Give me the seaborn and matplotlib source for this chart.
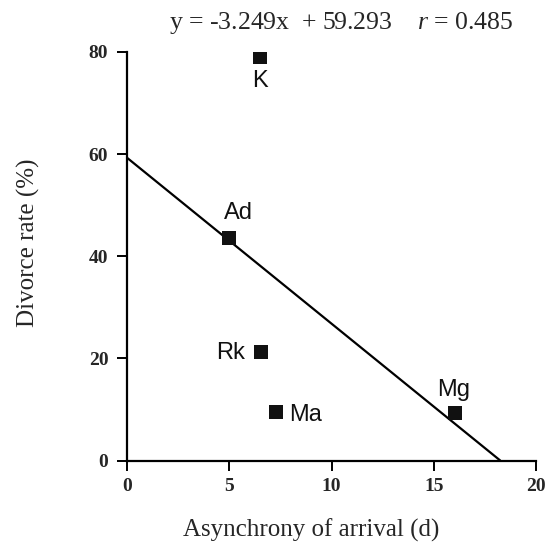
import matplotlib
matplotlib.use("Agg")
import matplotlib.pyplot as plt
import seaborn as sns
import pandas as pd

# Data
labels = ["K", "Ad", "Rk", "Ma", "Mg"]
asynchrony = [6.48, 4.99, 6.53, 7.29, 16.06]
divorce = [79.1, 43.6, 21.2, 9.5, 9.4]
slope = -3.249
intercept = 59.293
r_value = 0.485
x_ticks = [0, 5, 10, 15, 20]
y_ticks = [0, 20, 40, 60, 80]

sns.set_style("ticks")
plt.rcParams["font.family"] = ["Liberation Serif", "DejaVu Serif"]
plt.rcParams["mathtext.fontset"] = "custom"
plt.rcParams["mathtext.rm"] = "Liberation Serif"
plt.rcParams["mathtext.it"] = "Liberation Serif:italic"

df = pd.DataFrame({"x": asynchrony, "y": divorce, "label": labels})
x_end = -intercept / slope
line_df = pd.DataFrame({"x": [0.0, x_end], "y": [intercept, intercept + slope * x_end]})

fig = plt.figure(figsize=(5.54, 5.45), dpi=100)
ax = fig.add_axes([127 / 554, 1 - 460.5 / 545, 409 / 554, 408.5 / 545])

sns.lineplot(data=line_df, x="x", y="y", color="black", linewidth=1.6, ax=ax)
sns.scatterplot(data=df, x="x", y="y", marker="s", s=105, color="#111111",
                edgecolor="#111111", linewidth=0, ax=ax, zorder=3)

# label offsets in points: (dx, dy, ha)
offsets = {
    "K": (0, -22, "center"),
    "Ad": (6.8, 13.3, "center"),
    "Rk": (-11.2, -5, "right"),
    "Ma": (9.4, -6.5, "left"),
    "Mg": (-1, 12.2, "center"),
}
for lab, xv, yv in zip(labels, asynchrony, divorce):
    dx, dy, ha = offsets[lab]
    ax.annotate(lab, (xv, yv), xytext=(dx, dy), textcoords="offset points",
                ha=ha, va="baseline", fontsize=17,
                family=["Liberation Sans", "DejaVu Sans"], color="#111111")

ax.set_xlim(0, 20)
ax.set_ylim(0, 80)
ax.set_xticks(x_ticks)
ax.set_yticks(y_ticks)
ax.set_xticklabels([str(t) for t in x_ticks], fontsize=14, fontweight="bold")
ax.set_yticklabels([str(t) for t in y_ticks], fontsize=14, fontweight="bold")
ax.tick_params(axis="x", direction="out", length=7.5, width=1.4, color="black", pad=5)
ax.tick_params(axis="y", direction="out", length=7.5, width=1.4, color="black", pad=6)
for s in ["left", "bottom"]:
    ax.spines[s].set_linewidth(1.6)
    ax.spines[s].set_color("black")
sns.despine(ax=ax)

ax.set_xlabel("Asynchrony of arrival (d)", fontsize=18, va="center")
ax.xaxis.set_label_coords((311 - 127) / 409, (460 - 530) / 408)
ax.set_ylabel("Divorce rate (%)", fontsize=18, va="center")
ax.yaxis.set_label_coords((28.5 - 127) / 409, (460 - 242.5) / 408)

fig.text(341.5 / 554, 1 - 29 / 545,
         f"y = {slope:.3f}x  + {intercept:.3f}    $\\mathit{{r}}$ = {r_value:.3f}",
         ha="center", va="baseline", fontsize=18.5)

fig.savefig("out.png", dpi=100)
